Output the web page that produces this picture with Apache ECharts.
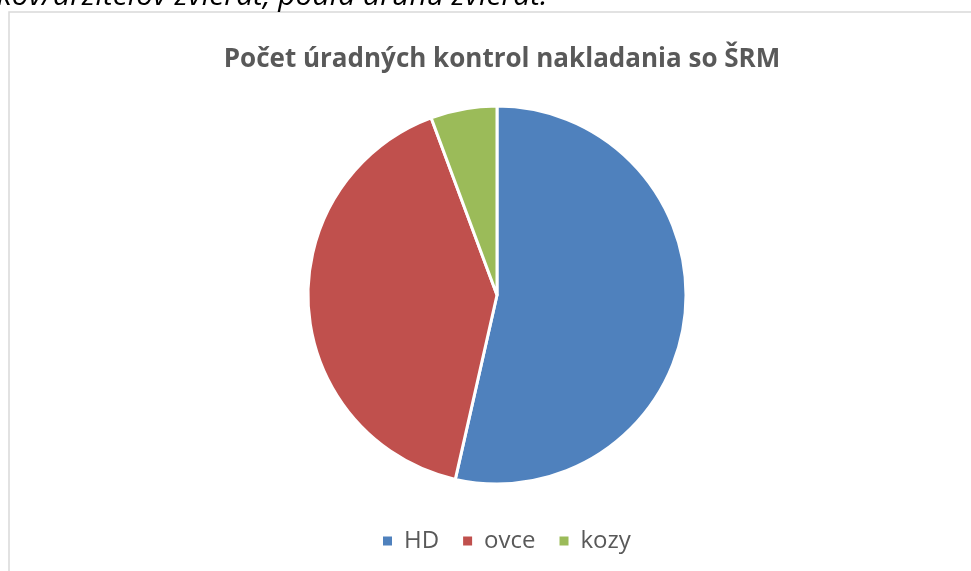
<!DOCTYPE html>
<html>
<head>
<meta charset="utf-8">
<script src="https://cdn.jsdelivr.net/npm/echarts@6/dist/echarts.min.js"></script>
<style>
  html, body { margin: 0; padding: 0; background: #fff; }
  #main { width: 971px; height: 571px; }
</style>
</head>
<body>
<div id="main"></div>
<script>
// druhy zvierat a pocty kontrol (odhad z obrazka)
var categories = ["HD", "ovce", "kozy"];
var values = [189, 144, 20];
var colors = ["#4F81BD", "#C0504D", "#9BBB59"];

var pieData = [];
for (let i = 0; i < categories.length; i++) {
  pieData.push({ name: categories[i], value: values[i], itemStyle: { color: colors[i] } });
}

var myChart = echarts.init(document.getElementById("main"));
var option = {
  backgroundColor: "#fff",
  animation: false,
  title: {
    text: "Počet úradných kontrol nakladania so ŠRM",
    top: 42,
    left: 497,
    textAlign: "center",
    textStyle: {
      fontFamily: "Open Sans",
      fontSize: 26,
      fontWeight: "bold",
      color: "#595959",
    },
  },
  legend: {
    data: categories,
    bottom: 13,
    left: 376,
    icon: "rect",
    itemWidth: 11,
    itemHeight: 11,
    itemGap: 22,
    textStyle: {
      fontFamily: "Open Sans",
      fontSize: 24,
      color: "#595959",
      padding: [0, 0, 0, 6],
    },
  },
  graphic: [
    {
      type: "rect",
      shape: { x: 9, y: 12, width: 1000, height: 600 },
      style: { fill: "none", stroke: "#d9d9d9", lineWidth: 1.5 },
      z: -1,
    },
    {
      type: "text",
      left: -3,
      top: -19,
      style: {
        text: "kov/držiteľov zvierat, podľa druhu zvierat.",
        font: "italic 30px 'Open Sans'",
        fill: "#000",
      },
    },
  ],
  series: [
    {
      type: "pie",
      center: [497, 295],
      radius: 189,
      startAngle: 90,
      clockwise: true,
      label: { show: false },
      labelLine: { show: false },
      itemStyle: { borderColor: "#fff", borderWidth: 3 },
      emphasis: { disabled: true },
      data: pieData,
    },
  ],
};
myChart.setOption(option);
</script>
</body>
</html>
